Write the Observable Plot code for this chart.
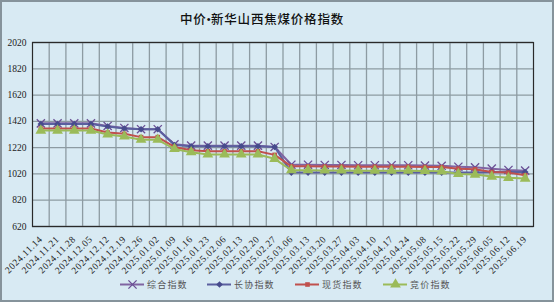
<!DOCTYPE html>
<html>
<head>
<meta charset="utf-8">
<script src="https://cdn.jsdelivr.net/npm/d3@7"></script>
<script src="https://cdn.jsdelivr.net/npm/@observablehq/plot@0.6"></script>
<style>
  html, body { margin: 0; padding: 0; }
  #wrap { position: relative; width: 554px; height: 302px; background: #d8eaf3; overflow: hidden; }
  #border { position: absolute; left: 0; top: 0; right: 0; bottom: 0; border: 2px solid #86939b; box-sizing: border-box; pointer-events: none; }
  #title { position: absolute; left: 0; top: 9px; width: 524px; text-align: center; font-family: "Noto Sans CJK SC"; font-weight: 500; font-size: 12.5px; letter-spacing: 0.8px; color: #111; }
  #title .dot { font-family: "Liberation Serif"; letter-spacing: 0; }
  #chart { position: absolute; left: 0; top: 32px; }
  #legend { position: absolute; left: 0; top: 276px; width: 554px; height: 16px; font-family: "Noto Sans CJK SC"; font-size: 9px; letter-spacing: 1.2px; color: #555; }
  .item { position: absolute; top: 0; display: flex; align-items: center; height: 16px; }
  .item svg { margin-right: 3px; }
</style>
</head>
<body>
<div id="wrap">
  <div id="title"></div>
  <div id="chart"></div>
  <div id="legend"></div>
  <div id="border"></div>
</div>
<script>
const titleParts = ["中价", "•", "新华山西焦煤价格指数"];
const dates = ["2024.11.14","2024.11.21","2024.11.28","2024.12.05","2024.12.12","2024.12.19","2024.12.26",
  "2025.01.02","2025.01.09","2025.01.16","2025.01.23","2025.02.06","2025.02.13","2025.02.20","2025.02.27",
  "2025.03.06","2025.03.13","2025.03.20","2025.03.27","2025.04.03","2025.04.10","2025.04.17","2025.04.24",
  "2025.05.08","2025.05.15","2025.05.22","2025.05.29","2025.06.05","2025.06.12","2025.06.19"];
const seriesNames = ["综合指数", "长协指数", "现货指数", "竞价指数"];
const zonghe   = [1405,1405,1405,1405,1385,1370,1360,1360,1245,1235,1235,1235,1235,1235,1225,
                  1090,1090,1088,1088,1086,1086,1086,1086,1084,1082,1075,1070,1060,1050,1045];
const changxie = [1400,1400,1400,1400,1380,1365,1360,1360,1240,1230,1230,1230,1230,1230,1225,
                  1030,1030,1030,1030,1030,1030,1030,1030,1030,1030,1030,1030,1035,1035,1035];
const xianhuo  = [1365,1365,1365,1365,1335,1325,1300,1300,1225,1200,1192,1192,1192,1192,1165,
                  1078,1078,1076,1076,1075,1075,1075,1075,1073,1072,1060,1055,1035,1030,1010];
const jingjia  = [1350,1350,1350,1350,1320,1305,1280,1280,1210,1185,1168,1168,1168,1168,1135,
                  1048,1048,1046,1046,1045,1045,1045,1045,1043,1040,1020,1015,1000,990,985];
const yTicks = [620, 820, 1020, 1220, 1420, 1620, 1820, 2020];

const colors  = ["#8064a2", "#5b5f9f", "#c0504d", "#9bbb59"];
const mcolors = ["#6a4f95", "#474b8c", "#c0504d", "#9bbb59"];
const symbols = ["times", "diamond2", "square", "triangle"];
const radii   = [3.8, 3.0, 2.6, 4.0];
const allSeries = [zonghe, changxie, xianhuo, jingjia];

const titleEl = document.getElementById("title");
titleParts.forEach((p, k) => {
  const s = document.createElement("span");
  s.textContent = p;
  if (k === 1) s.className = "dot";
  titleEl.appendChild(s);
});

const idx = d3.range(dates.length);
function dotMark(data, s, opts) {
  return symbols[s] === "times"
    ? Plot.dot(data, {...opts, symbol: "times", r: radii[s], stroke: mcolors[s], strokeWidth: 1.3})
    : Plot.dot(data, {...opts, symbol: symbols[s], r: radii[s], fill: mcolors[s], stroke: "none"});
}
const marks = [
  Plot.ruleY(yTicks, {stroke: "#8d9ba2", strokeWidth: 1.3}),
  Plot.ruleX(idx.slice(0, -1).map(i => i + 0.5), {stroke: "#8d9ba2", strokeWidth: 1.3}),
  Plot.frame({stroke: "#2a2a2a", strokeWidth: 1.2}),
  Plot.axisY(yTicks, {tickSize: 0, tickPadding: 6, label: null, fill: "#222", tickFormat: d => String(d)}),
  Plot.axisX(idx, {tickSize: 0, tickPadding: 11, tickRotate: -45, tickFormat: i => dates[i], label: null, fill: "#222"})
];
allSeries.forEach((vals, s) => {
  const rows = vals.map((v, i) => ({i, v}));
  marks.push(Plot.line(rows, {x: "i", y: "v", stroke: colors[s], strokeWidth: 2}));
  marks.push(dotMark(rows, s, {x: "i", y: "v"}));
});

const chart = Plot.plot({
  width: 554, height: 270,
  marginLeft: 32, marginRight: 21, marginTop: 10, marginBottom: 76,
  style: {background: "transparent", fontFamily: "Liberation Serif", fontSize: "9.5px", color: "#222"},
  x: {type: "linear", domain: [-0.5, dates.length - 0.5]},
  y: {domain: [620, 2020]},
  marks
});
d3.select(chart).selectAll('g[aria-label="x-axis tick label"] text').style("letter-spacing", "0.6px");
document.getElementById("chart").appendChild(chart);

const legendX = [120, 207, 295, 383];
const legend = document.getElementById("legend");
seriesNames.forEach((name, s) => {
  const item = document.createElement("div");
  item.className = "item";
  item.style.left = legendX[s] + "px";
  const sw = Plot.plot({
    width: 24, height: 16, margin: 0,
    x: {domain: [0, 1], axis: null}, y: {domain: [0, 1], axis: null},
    style: {background: "transparent"},
    marks: [
      Plot.lineY([0.5, 0.5], {x: [0, 1], y: d => d, stroke: colors[s], strokeWidth: 2}),
      dotMark([0.5], s, {x: d => d, y: 0.5})
    ]
  });
  item.appendChild(sw);
  const t = document.createElement("span");
  t.textContent = name;
  item.appendChild(t);
  legend.appendChild(item);
});
</script>
</body>
</html>
